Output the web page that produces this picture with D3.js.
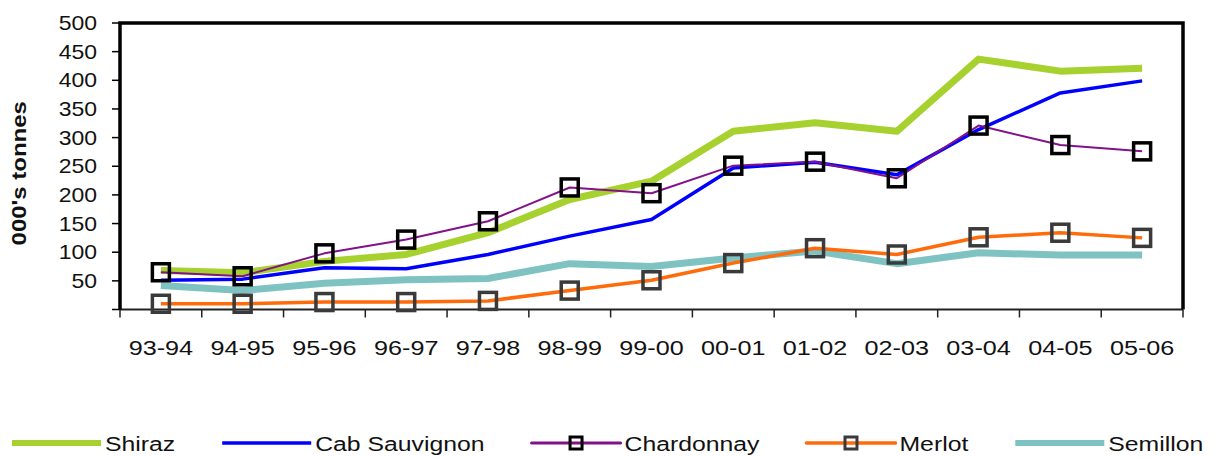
<!DOCTYPE html>
<html>
<head>
<meta charset="utf-8">
<script src="https://cdn.jsdelivr.net/npm/d3@7"></script>
<style>
  body { margin: 0; background: #fff; }
  text { font-family: "Liberation Sans", Arial, sans-serif; fill: #111; }
</style>
</head>
<body>
<div id="container"></div>
<script>
// vintages on the x axis
const years = ["93-94", "94-95", "95-96", "96-97", "97-98", "98-99", "99-00",
               "00-01", "01-02", "02-03", "03-04", "04-05", "05-06"];
// crush in 000's tonnes
const shiraz     = [68, 64, 84, 96, 134, 192, 224, 311, 326, 311, 437, 416, 421];
const cabSauv    = [51, 53, 73, 71, 96, 128, 157, 247, 257, 235, 314, 378, 399];
const chardonnay = [65, 58, 98, 122, 154, 213, 203, 251, 258, 229, 321, 287, 276];
const merlot     = [10, 10, 13, 13, 15, 33, 51, 81, 107, 96, 126, 134, 125];
const semillon   = [42, 33, 46, 52, 54, 80, 75, 90, 102, 80, 99, 95, 95];
const yTickValues = [0, 50, 100, 150, 200, 250, 300, 350, 400, 450, 500];
const yTitle = "000's tonnes";

const width = 1231;
const height = 457;
const plotLeft = 120, plotRight = 1183, plotTop = 23, plotBottom = 309.5;
const sx = 1.15; // the text in the picture is a bit wide

const svg = d3.select("#container").append("svg")
  .attr("width", width)
  .attr("height", height);

const x = d3.scaleBand().domain(years).range([plotLeft, plotRight]).padding(0);
const y = d3.scaleLinear().domain([0, 500]).range([plotBottom, plotTop]);
const cx = d => x(d) + x.bandwidth() / 2;

// series table, drawing order back to front
const series = [
  { name: "Shiraz",        values: shiraz,     color: "#a6d12e", w: 7,   lw: 6,   marker: null },
  { name: "Semillon",      values: semillon,   color: "#7fc2c2", w: 7,   lw: 6,   marker: null },
  { name: "Cab Sauvignon", values: cabSauv,    color: "#0000ff", w: 3.5, lw: 3.5, marker: null },
  { name: "Merlot",        values: merlot,     color: "#ff6a0a", w: 3.5, lw: 3.5, marker: "#3a3a3a" },
  { name: "Chardonnay",    values: chardonnay, color: "#82118a", w: 2,   lw: 3,   marker: "#000" }
];
const legendOrder = ["Shiraz", "Cab Sauvignon", "Chardonnay", "Merlot", "Semillon"];

// y axis ticks + labels
const yAxis = svg.append("g");
yAxis.selectAll("line.tick").data(yTickValues).join("line")
  .attr("class", "tick")
  .attr("x1", plotLeft - 8).attr("x2", plotLeft)
  .attr("y1", d => y(d)).attr("y2", d => y(d))
  .attr("stroke", "#000").attr("stroke-width", 1.5);
yAxis.selectAll("text").data(yTickValues.filter(d => d > 0)).join("text")
  .attr("transform", d => `translate(97,${y(d)}) scale(${sx},1)`)
  .attr("text-anchor", "end")
  .attr("dy", "0.35em")
  .attr("font-size", 20)
  .text(d => d);

svg.append("text")
  .attr("transform", `translate(19,${(plotTop + plotBottom) / 2 + 7}) rotate(-90) scale(1.2,1)`)
  .attr("text-anchor", "middle")
  .attr("dy", "0.35em")
  .attr("font-size", 20)
  .attr("font-weight", "bold")
  .text(yTitle);

// x axis ticks + labels
const xEdges = years.map(d => x(d)).concat([plotRight]);
svg.append("g").selectAll("line").data(xEdges).join("line")
  .attr("x1", d => d).attr("x2", d => d)
  .attr("y1", plotBottom).attr("y2", plotBottom + 8)
  .attr("stroke", "#222").attr("stroke-width", 1.5);
svg.append("g").selectAll("text").data(years).join("text")
  .attr("transform", d => `translate(${cx(d)},355) scale(1.2,1)`)
  .attr("text-anchor", "middle")
  .attr("font-size", 21)
  .text(d => d);

// frame
svg.append("line").attr("x1", plotLeft).attr("x2", plotRight).attr("y1", plotBottom).attr("y2", plotBottom)
  .attr("stroke", "#222").attr("stroke-width", 2);
svg.append("path")
  .attr("d", `M${plotLeft},${plotBottom} V${plotTop} H${plotRight} V${plotBottom}`)
  .attr("fill", "none").attr("stroke", "#000").attr("stroke-width", 3.5);

// lines
const line = d3.line().x((d, i) => cx(years[i])).y(d => y(d));
svg.append("g").selectAll("path").data(series).join("path")
  .attr("d", s => line(s.values))
  .attr("fill", "none")
  .attr("stroke", s => s.color)
  .attr("stroke-width", s => s.w)
  .attr("stroke-linejoin", "round");

// square markers
const msize = 17;
series.filter(s => s.marker).forEach(s => {
  svg.append("g").selectAll("rect").data(s.values).join("rect")
    .attr("x", (d, i) => cx(years[i]) - msize / 2)
    .attr("y", d => y(d) - msize / 2)
    .attr("width", msize).attr("height", msize)
    .attr("fill", "none")
    .attr("stroke", s.marker)
    .attr("stroke-width", 3.5);
});

// legend
const legend = svg.append("g");
const lineLen = 89, ly = 443, lsx = 1.18;
let lx = 12;
legendOrder.forEach(name => {
  const s = series.find(d => d.name === name);
  const g = legend.append("g");
  g.append("line")
    .attr("x1", lx).attr("x2", lx + lineLen)
    .attr("y1", ly).attr("y2", ly)
    .attr("stroke", s.color)
    .attr("stroke-width", s.lw)
    .attr("stroke-linecap", s.marker ? "round" : "butt");
  if (s.marker) {
    g.append("rect")
      .attr("x", lx + lineLen / 2 - 6).attr("y", ly - 6)
      .attr("width", 12).attr("height", 12)
      .attr("fill", "none")
      .attr("stroke", s.marker)
      .attr("stroke-width", 3);
  }
  const t = g.append("text")
    .attr("transform", `translate(${lx + lineLen + 4},${ly + 8}) scale(${lsx},1)`)
    .attr("font-size", 21)
    .text(s.name);
  const tw = t.node().getComputedTextLength() * lsx;
  lx += lineLen + 4 + tw + 47;
});
</script>
</body>
</html>
